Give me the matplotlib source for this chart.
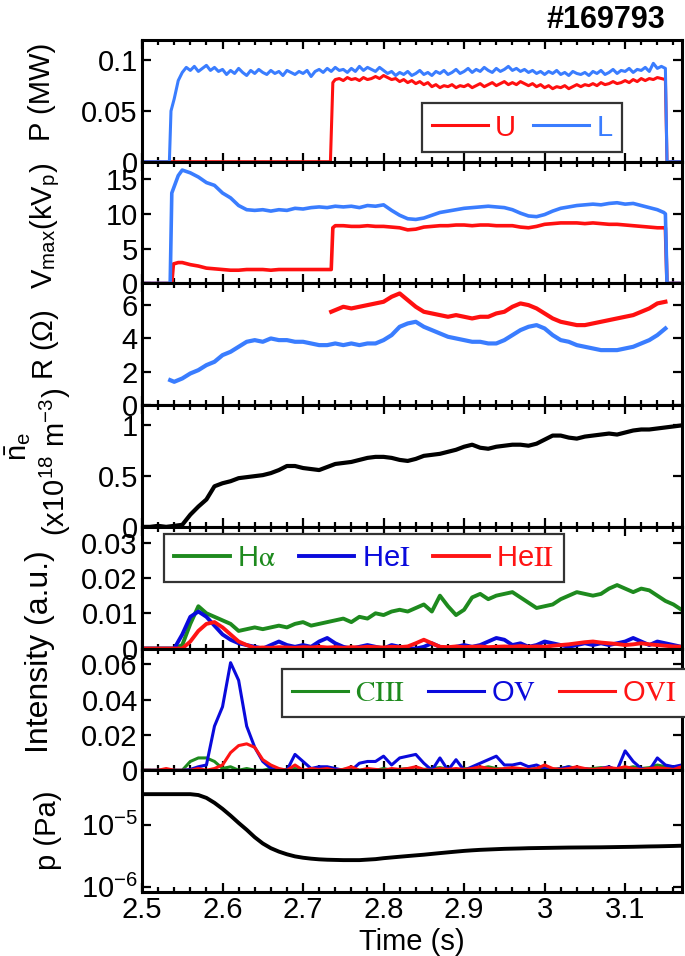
import numpy as np
import matplotlib
matplotlib.use('Agg')
import matplotlib.pyplot as plt
from matplotlib.ticker import MultipleLocator, NullLocator

plt.rcParams['font.family'] = ['Liberation Sans', 'Noto Sans CJK JP', 'DejaVu Sans']
plt.rcParams['mathtext.fontset'] = 'stix'

# ---- data ----
# input power (MW)
t_PL = np.concatenate([[2.50, 2.534, 2.536, 2.540, 2.545], np.round(np.arange(2.550, 3.1451, 0.005), 3), [3.150, 3.152, 3.17]])
P_L = [0, 0, 0.050, 0.062, 0.080,
       0.088, 0.093, 0.090, 0.094, 0.089, 0.092, 0.095, 0.090, 0.093, 0.089,
       0.091, 0.086, 0.090, 0.087, 0.092, 0.088, 0.085, 0.090, 0.087, 0.091,
       0.088, 0.086, 0.090, 0.087, 0.089, 0.085, 0.090, 0.088, 0.086, 0.089,
       0.087, 0.090, 0.084, 0.089, 0.091, 0.088, 0.092, 0.089, 0.093, 0.090,
       0.091, 0.088, 0.092, 0.089, 0.094, 0.090, 0.093, 0.091, 0.089, 0.093,
       0.090, 0.087, 0.089, 0.085, 0.088, 0.086, 0.089, 0.085, 0.087, 0.090,
       0.086, 0.088, 0.085, 0.089, 0.087, 0.090, 0.086, 0.088, 0.091, 0.087,
       0.089, 0.092, 0.088, 0.091, 0.089, 0.093, 0.090, 0.088, 0.092, 0.089,
       0.091, 0.094, 0.090, 0.092, 0.089, 0.091, 0.088, 0.090, 0.087, 0.089,
       0.086, 0.089, 0.087, 0.090, 0.086, 0.088, 0.085, 0.089, 0.087, 0.086,
       0.088, 0.085, 0.089, 0.087, 0.090, 0.086, 0.088, 0.091, 0.087, 0.090,
       0.089, 0.092, 0.088, 0.091, 0.090, 0.093, 0.089, 0.097, 0.092, 0.094,
       0.092, 0, 0]
t_PU = np.concatenate([[2.50, 2.734, 2.737, 2.740], np.round(np.arange(2.745, 3.1451, 0.005), 3), [3.150, 3.152, 3.17]])
P_U = [0, 0, 0.078, 0.081,
       0.082, 0.080, 0.083, 0.081, 0.082, 0.080, 0.083, 0.081, 0.082, 0.084,
       0.082, 0.085, 0.083, 0.081, 0.082, 0.079, 0.081, 0.078, 0.080, 0.077,
       0.079, 0.076, 0.078, 0.074, 0.076, 0.073, 0.075, 0.074, 0.076, 0.073,
       0.075, 0.074, 0.076, 0.073, 0.075, 0.077, 0.074, 0.076, 0.078, 0.075,
       0.077, 0.079, 0.076, 0.078, 0.076, 0.079, 0.077, 0.075, 0.077, 0.074,
       0.076, 0.073, 0.075, 0.072, 0.074, 0.073, 0.075, 0.072, 0.074, 0.076,
       0.074, 0.076, 0.075, 0.077, 0.075, 0.078, 0.076, 0.077, 0.079, 0.077,
       0.078, 0.080, 0.078, 0.081, 0.079, 0.082, 0.080, 0.082, 0.081, 0.083,
       0.082, 0.081, 0, 0]

# peak voltage (kVp)
t_VL = np.concatenate([[2.50, 2.535, 2.537, 2.545], np.round(np.arange(2.55, 3.1451, 0.01), 2), [3.148, 3.150, 3.152, 3.17]])
V_L = [0, 0, 13.0, 15.5,
       16.3, 15.9, 15.3, 14.5, 14.1, 13.0, 12.3, 11.2, 10.6, 10.5,
       10.6, 10.4, 10.6, 10.5, 10.8, 10.7, 10.9, 11.0, 10.9, 11.1,
       11.0, 11.1, 10.9, 11.2, 11.1, 11.3, 10.5, 9.8, 9.3, 9.2,
       9.4, 9.8, 10.2, 10.4, 10.6, 10.8, 10.9, 11.0, 11.1, 11.0,
       10.9, 10.6, 10.1, 9.7, 9.6, 9.9, 10.4, 10.8, 11.0, 11.2,
       11.3, 11.4, 11.3, 11.5, 11.6, 11.4, 11.5, 11.2, 10.9, 10.6,
       10.2, 10.0, 0, 0]
t_VU = np.concatenate([[2.50, 2.537, 2.539, 2.545], np.round(np.arange(2.55, 2.7351, 0.01), 2),
                       [2.735, 2.737, 2.740], np.round(np.arange(2.75, 3.1451, 0.01), 2), [3.150, 3.152, 3.17]])
V_U = [0, 0, 2.8, 3.0,
       3.0, 2.7, 2.5, 2.2, 2.1, 2.0, 1.9, 1.9, 2.0, 2.0, 2.0, 1.9, 2.0, 2.0, 2.0, 2.0, 2.0, 2.0, 2.0,
       2.0, 8.0, 8.3,
       8.3, 8.2, 8.2, 8.3, 8.2, 8.2, 8.1, 8.0, 7.7, 7.8,
       8.1, 8.2, 8.3, 8.3, 8.4, 8.4, 8.3, 8.4, 8.4, 8.3,
       8.3, 8.3, 8.1, 8.0, 8.2, 8.5, 8.6, 8.7, 8.7, 8.7,
       8.6, 8.7, 8.6, 8.5, 8.5, 8.4, 8.3, 8.2, 8.1, 8.0,
       8.0, 0, 0]

# load resistance (ohm)
t_RL = np.concatenate([[2.535], np.round(np.arange(2.54, 3.1551, 0.01), 2)])
R_L = [1.5,
       1.4, 1.6, 1.9, 2.1, 2.4, 2.6, 3.0, 3.2, 3.5, 3.8,
       3.9, 3.8, 4.0, 3.9, 3.9, 3.8, 3.8, 3.7, 3.6, 3.6,
       3.7, 3.6, 3.7, 3.6, 3.7, 3.7, 3.9, 4.2, 4.7, 4.9,
       5.0, 4.7, 4.5, 4.3, 4.1, 4.0, 3.9, 3.8, 3.8, 3.7,
       3.7, 3.9, 4.2, 4.5, 4.7, 4.8, 4.6, 4.2, 3.9, 3.8,
       3.6, 3.5, 3.4, 3.3, 3.3, 3.3, 3.4, 3.5, 3.7, 3.9,
       4.2, 4.6]
t_RU = np.concatenate([[2.735], np.round(np.arange(2.74, 3.1551, 0.01), 2)])
R_U = [5.6,
       5.7, 5.9, 5.8, 5.9, 6.0, 6.1, 6.2, 6.5, 6.7, 6.3,
       5.9, 5.6, 5.5, 5.4, 5.3, 5.4, 5.3, 5.2, 5.3, 5.3,
       5.5, 5.6, 5.9, 6.1, 6.0, 5.8, 5.5, 5.2, 5.0, 4.9,
       4.8, 4.8, 4.9, 5.0, 5.1, 5.2, 5.3, 5.4, 5.6, 5.8,
       6.1, 6.2]

# line averaged density (1e18 m^-3)
t_ne = np.round(np.arange(2.50, 3.1751, 0.01), 2)
n_e = [0.00, 0.00, 0.01, 0.00, 0.01, 0.02, 0.12, 0.20, 0.27, 0.40,
       0.43, 0.45, 0.48, 0.49, 0.50, 0.51, 0.53, 0.56, 0.60, 0.60,
       0.58, 0.57, 0.56, 0.59, 0.62, 0.63, 0.64, 0.66, 0.68, 0.69,
       0.69, 0.68, 0.66, 0.65, 0.67, 0.70, 0.71, 0.72, 0.74, 0.76,
       0.79, 0.81, 0.78, 0.77, 0.79, 0.80, 0.81, 0.81, 0.80, 0.82,
       0.86, 0.90, 0.90, 0.88, 0.87, 0.89, 0.90, 0.91, 0.92, 0.91,
       0.93, 0.95, 0.96, 0.96, 0.97, 0.98, 0.99, 1.00]

# line emission, filter channels (a.u.)
t_spec = np.round(np.arange(2.50, 3.1751, 0.01), 2)
H_alpha = [0, 0, 0, 0, 0, 0.001, 0.007, 0.012, 0.010, 0.009,
           0.008, 0.007, 0.005, 0.0055, 0.006, 0.0055, 0.006, 0.0065, 0.006, 0.007,
           0.0075, 0.0065, 0.007, 0.0075, 0.008, 0.0085, 0.0075, 0.009, 0.0085, 0.010,
           0.0095, 0.0105, 0.011, 0.0105, 0.0115, 0.0125, 0.0105, 0.015, 0.012, 0.0095,
           0.011, 0.0145, 0.0155, 0.014, 0.015, 0.0155, 0.016, 0.0145, 0.013, 0.0115,
           0.012, 0.0125, 0.014, 0.015, 0.016, 0.0155, 0.015, 0.0155, 0.017, 0.018,
           0.017, 0.016, 0.017, 0.0165, 0.015, 0.0135, 0.0125, 0.011]
He_I = [0, 0, 0, 0, 0, 0.004, 0.009, 0.0105, 0.009, 0.0065,
        0.004, 0.0025, 0.0015, 0.001, 0.0005, 0.0, 0.001, 0.002, 0.001, 0.0005,
        0.001, 0.0005, 0.002, 0.003, 0.0015, 0.0005, 0.0, 0.0005, 0.001, 0.0005,
        0.0, 0.001, 0.0005, 0.0, 0.0, 0.0005, 0.0015, 0.0005, 0.0, 0.0005,
        0.001, 0.0005, 0.001, 0.002, 0.003, 0.0025, 0.001, 0.0015, 0.0005, 0.001,
        0.002, 0.0015, 0.001, 0.0005, 0.001, 0.0015, 0.001, 0.0015, 0.001, 0.0015,
        0.002, 0.003, 0.002, 0.001, 0.002, 0.0015, 0.001, 0.0005]
He_II = [0, 0, 0, 0, 0, 0, 0.002, 0.005, 0.007, 0.0075,
         0.006, 0.004, 0.002, 0.001, 0.0002, 0.0003, 0.0002, 0.0004, 0.0003, 0.0002,
         0.0004, 0.0003, 0.0005, 0.0003, 0.0004, 0.0002, 0.0004, 0.0003, 0.0005, 0.0004,
         0.0003, 0.0005, 0.0004, 0.0006, 0.0015, 0.0025, 0.0015, 0.0005, 0.0004, 0.0006,
         0.0004, 0.0005, 0.0006, 0.0004, 0.0005, 0.0006, 0.0005, 0.0007, 0.0005, 0.0006,
         0.0005, 0.0008, 0.001, 0.0012, 0.0015, 0.0018, 0.002, 0.0017, 0.0015, 0.0013,
         0.001, 0.0012, 0.0015, 0.0012, 0.001, 0.0008, 0.0006, 0.0005]

# VUV lines (a.u.)
C_III = [0, 0, 0, 0, 0, 0, 0.005, 0.007, 0.007, 0.005,
         0.001, 0.002, 0.0, 0.001, 0.0, 0.0, 0.001, 0.0, 0.0005, 0.001,
         0.0, 0.0005, 0.0, 0.001, 0.0, 0.0005, 0.001, 0.0, 0.0005, 0.0,
         0.001, 0.0, 0.0005, 0.001, 0.0, 0.0005, 0.001, 0.0015, 0.0005, 0.0,
         0.001, 0.0005, 0.001, 0.002, 0.001, 0.0005, 0.001, 0.0, 0.0005, 0.001,
         0.0015, 0.0005, 0.001, 0.002, 0.001, 0.0005, 0.001, 0.0015, 0.001, 0.0005,
         0.001, 0.002, 0.001, 0.0015, 0.003, 0.002, 0.001, 0.001]
O_V = [0, 0, 0, 0, 0, 0, 0.0005, 0.002, 0.003, 0.025,
       0.036, 0.061, 0.051, 0.025, 0.013, 0.005, 0.001, 0.0, 0.0, 0.009,
       0.005, 0.001, 0.002, 0.002, 0.001, 0.0, 0.0, 0.004, 0.005, 0.005,
       0.008, 0.003, 0.007, 0.008, 0.009, 0.004, 0.0, 0.007, 0.0, 0.006,
       0.0, 0.002, 0.004, 0.006, 0.008, 0.003, 0.003, 0.004, 0.002, 0.003,
       0.001, 0.0, 0.001, 0.002, 0.0, 0.001, 0.0, 0.001, 0.002, 0.0,
       0.011, 0.005, 0.001, 0.0, 0.007, 0.003, 0.002, 0.003]
O_VI = [0, 0, 0, 0.001, 0.0, 0, 0, 0.001, 0.0, 0.001,
        0.003, 0.010, 0.014, 0.015, 0.013, 0.006, 0.003, 0.001, 0.0, 0.003,
        0.0, 0.001, 0.0005, 0.001, 0.0, 0.0005, 0.002, 0.0, 0.001, 0.0005,
        0.0, 0.001, 0.0005, 0.001, 0.002, 0.0005, 0.0, 0.001, 0.0005, 0.001,
        0.0005, 0.001, 0.002, 0.001, 0.0005, 0.001, 0.0015, 0.001, 0.0005, 0.001,
        0.003, 0.001, 0.0005, 0.001, 0.002, 0.001, 0.0005, 0.001, 0.0015, 0.001,
        0.002, 0.001, 0.0005, 0.001, 0.0015, 0.001, 0.0005, 0.002]

# neutral pressure (Pa)
t_p = np.round(np.arange(2.50, 3.1751, 0.01), 2)
p_n = [3.1e-5, 3.1e-5, 3.1e-5, 3.1e-5, 3.1e-5, 3.1e-5, 3.1e-5, 3.0e-5, 2.7e-5, 2.25e-5,
       1.8e-5, 1.4e-5, 1.07e-5, 8.3e-6, 6.3e-6, 5.0e-6, 4.2e-6, 3.7e-6, 3.35e-6, 3.1e-6,
       2.95e-6, 2.85e-6, 2.78e-6, 2.74e-6, 2.72e-6, 2.7e-6, 2.7e-6, 2.7e-6, 2.75e-6, 2.8e-6,
       2.9e-6, 2.98e-6, 3.06e-6, 3.14e-6, 3.22e-6, 3.3e-6, 3.4e-6, 3.5e-6, 3.6e-6, 3.7e-6,
       3.8e-6, 3.88e-6, 3.95e-6, 4.0e-6, 4.05e-6, 4.1e-6, 4.13e-6, 4.16e-6, 4.2e-6, 4.22e-6,
       4.24e-6, 4.26e-6, 4.28e-6, 4.3e-6, 4.31e-6, 4.32e-6, 4.33e-6, 4.34e-6, 4.36e-6, 4.38e-6,
       4.4e-6, 4.42e-6, 4.45e-6, 4.48e-6, 4.5e-6, 4.53e-6, 4.56e-6, 4.6e-6]

c_U = '#ff1010'
c_L = '#3a7dff'
c_g = '#1e8a1e'
c_b = '#0a0adc'
c_r = '#ff1414'

fs = 21
W, H = 685, 956
fig = plt.figure(figsize=(6.85, 9.56), dpi=100)
gs = fig.add_gridspec(7, 1, left=142 / W, right=681.5 / W, top=1 - 40 / H, bottom=1 - 892 / H, hspace=0)
axes = [fig.add_subplot(gs[i]) for i in range(7)]

lw = 2.2
ax = axes[0]
ax.plot(t_PU, P_U, color=c_U, lw=lw, label='U')
ax.plot(t_PL, P_L, color=c_L, lw=lw, label='L')
ax.set_ylim(0, 0.12)
ax.set_yticks([0, 0.05, 0.1])
ax.set_yticklabels(['0', '0.05', '0.1'])

ax = axes[1]
ax.plot(t_VU, V_U, color=c_U, lw=lw + 0.4)
ax.plot(t_VL, V_L, color=c_L, lw=lw + 0.4)
ax.set_ylim(0, 17.5)
ax.set_yticks([0, 5, 10, 15])

ax = axes[2]
ax.plot(t_RU, R_U, color=c_U, lw=lw + 0.8)
ax.plot(t_RL, R_L, color=c_L, lw=lw + 0.8)
ax.set_ylim(0, 7.3)
ax.set_yticks([0, 2, 4, 6])

ax = axes[3]
ax.plot(t_ne, n_e, color='black', lw=lw + 0.8)
ax.set_ylim(0, 1.2)
ax.set_yticks([0, 0.5, 1])
ax.set_yticklabels(['0', '0.5', '1'])

ax = axes[4]
ax.plot(t_spec, H_alpha, color=c_g, lw=lw + 0.6, label=r'H$\mathrm{\alpha}$')
ax.plot(t_spec, He_I, color=c_b, lw=lw + 0.6, label=r'He$\mathrm{I}$')
ax.plot(t_spec, He_II, color=c_r, lw=lw + 0.6, label=r'He$\mathrm{II}$')
ax.set_ylim(0, 0.0345)
ax.set_yticks([0, 0.01, 0.02, 0.03])
ax.set_yticklabels(['0', '0.01', '0.02', '0.03'])

ax = axes[5]
ax.plot(t_spec, C_III, color=c_g, lw=lw, label=r'$\mathrm{CIII}$')
ax.plot(t_spec, O_V, color=c_b, lw=lw, label=r'O$\mathrm{V}$')
ax.plot(t_spec, O_VI, color=c_r, lw=lw, label=r'O$\mathrm{VI}$')
ax.set_ylim(0, 0.069)
ax.set_yticks([0, 0.02, 0.04, 0.06])
ax.set_yticklabels(['0', '0.02', '0.04', '0.06'])

ax = axes[6]
ax.plot(t_p, p_n, color='black', lw=lw + 0.6)
ax.set_yscale('log')
ax.set_ylim(8.3e-7, 7.5e-5)
ax.set_yticks([1e-6, 1e-5])
ax.set_yticklabels([r'10$^{\mathregular{-6}}$', r'10$^{\mathregular{-5}}$'])
ax.yaxis.set_minor_locator(NullLocator())

for i, ax in enumerate(axes):
    ax.set_xlim(2.5, 3.17)
    ax.xaxis.set_major_locator(MultipleLocator(0.1))
    ax.xaxis.set_minor_locator(MultipleLocator(0.02))
    ax.tick_params(which='both', direction='in', top=True, right=True, labelsize=fs, width=1.6)
    ax.tick_params(which='major', length=6.5, pad=3)
    ax.tick_params(which='minor', length=3.8)
    for sp in ax.spines.values():
        sp.set_linewidth(2.2)
    if i < 6:
        ax.tick_params(labelbottom=False)

axes[6].set_xticks([2.5, 2.6, 2.7, 2.8, 2.9, 3.0, 3.1])
axes[6].set_xticklabels(['2.5', '2.6', '2.7', '2.8', '2.9', '3', '3.1'])
axes[6].set_xlabel('Time (s)', fontsize=fs, labelpad=3)

leg_kw = dict(fontsize=fs, frameon=True, fancybox=False, framealpha=1, edgecolor='0.2',
              handlelength=1.9, handletextpad=0.25, borderpad=0.35, labelcolor='linecolor',
              borderaxespad=0)
lg = axes[0].legend(ncol=2, loc='lower left', bbox_to_anchor=(0.519, 0.082), columnspacing=0.6, **leg_kw)
lg.get_frame().set_linewidth(1.6)
lg = axes[4].legend(ncol=3, loc='lower left', bbox_to_anchor=(0.041, 0.545), columnspacing=0.8, **leg_kw)
lg.get_frame().set_linewidth(1.6)
lg = axes[5].legend(ncol=3, loc='lower left', bbox_to_anchor=(0.2595, 0.438), columnspacing=0.8, **leg_kw)
lg.get_frame().set_linewidth(1.6)

# y labels
def ylab(x, y, s, size=fs):
    fig.text(x / W, 1 - y / H, s, rotation=90, ha='center', va='center', fontsize=size)

ylab(42, 92, 'P (MW)')
ylab(45, 226, r'V$_{\mathregular{max}}$(kV$_{\mathregular{p}}$)')
ylab(45, 345, r'R ($\mathregular{\Omega}$)')
ylab(18, 446, r'$\bar{\mathregular{n}}_{\mathregular{e}}$')
ylab(56, 462, r'(x10$^{\mathregular{18}}$ m$^{\mathregular{-3}}$)')
ylab(40, 652, 'Intensity (a.u.)', size=23)
ylab(48, 830, 'p (Pa)')

fig.text(665 / W, 1 - 20 / H, '#169793', ha='right', va='center', fontsize=22, fontweight='bold')

fig.savefig('out.png', dpi=100)
